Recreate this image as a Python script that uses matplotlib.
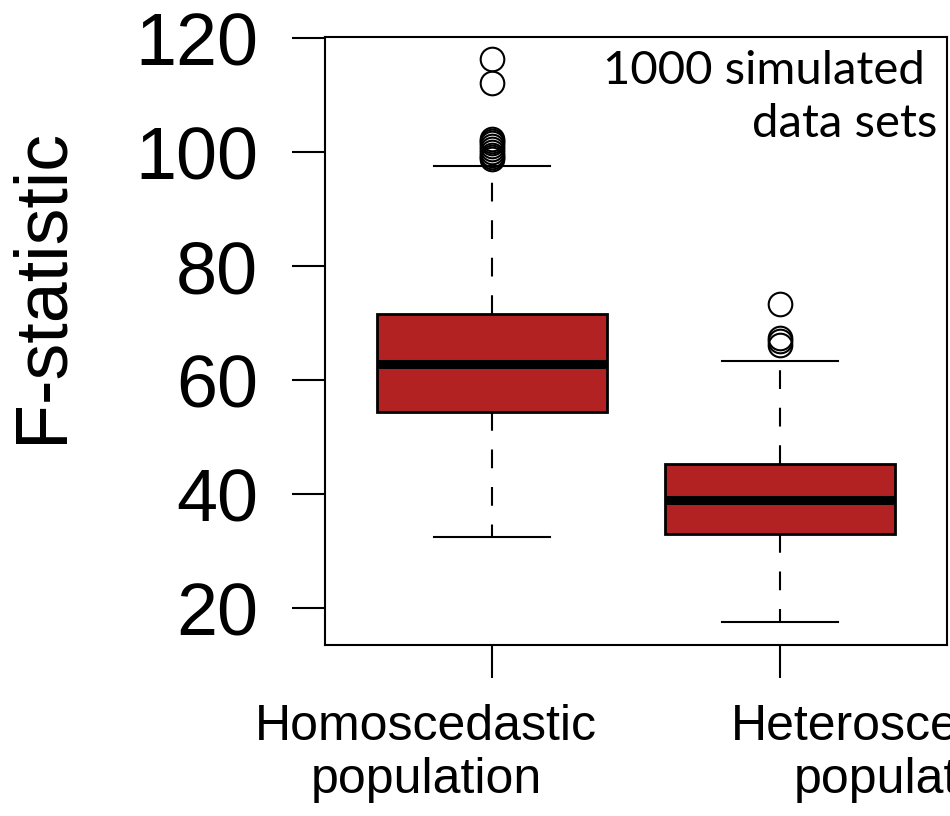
import matplotlib
matplotlib.use('Agg')
import matplotlib.pyplot as plt
from matplotlib import font_manager
from matplotlib.transforms import blended_transform_factory

# box statistics (1000 simulated F-statistics per group)
groups = ['Homoscedastic\npopulation', 'Heteroscedastic\npopulation']
q1 = [54.4, 33.0]
medians = [62.9, 39.0]
q3 = [71.7, 45.3]
whisker_low = [32.6, 17.7]
whisker_high = [97.6, 63.4]
fliers = [
    [116.3, 112.2, 102.3, 102.0, 101.6, 101.1, 100.6, 100.1, 99.6, 99.2, 98.8],
    [73.4, 67.5, 66.9, 66.2],
]
yticks = [20, 40, 60, 80, 100, 120]

installed = {f.name for f in font_manager.fontManager.ttflist}
narrow = 'Liberation Sans Narrow' if 'Liberation Sans Narrow' in installed else 'Liberation Sans'
label_size = 44 if narrow == 'Liberation Sans Narrow' else 36

plt.rcParams['font.family'] = ['Liberation Sans', 'DejaVu Sans']

fig = plt.figure(figsize=(9.5, 8.16), dpi=100)
ax = fig.add_axes([0.342, 0.2096, 0.655, 0.745])

stats = []
for i in range(len(groups)):
    stats.append(dict(med=medians[i], q1=q1[i], q3=q3[i],
                      whislo=whisker_low[i], whishi=whisker_high[i],
                      fliers=fliers[i], label=groups[i]))

ax.bxp(stats, positions=[1, 2], widths=0.8, capwidths=0.4, patch_artist=True,
       boxprops=dict(facecolor='#B22222', edgecolor='black', linewidth=2),
       medianprops=dict(color='black', linewidth=6.5, solid_capstyle='butt'),
       whiskerprops=dict(color='black', linestyle=(0, (9, 9)), linewidth=1.5),
       capprops=dict(color='black', linewidth=1.5),
       flierprops=dict(marker='o', markerfacecolor='none', markeredgecolor='black',
                       markersize=17, markeredgewidth=1.5))

ax.set_xlim(0.42, 2.58)
ax.set_ylim(13.6, 120.2)
ax.set_yticks(yticks)
ax.set_yticklabels([str(v) for v in yticks])
ax.set_xticks([1, 2])
ax.set_xticklabels(['', ''])

for s in ax.spines.values():
    s.set_linewidth(1.5)
ax.tick_params(axis='both', direction='out', length=24, width=1.5, labelsize=53, pad=24)

# category labels sit off-centre from the ticks in the original
tr = blended_transform_factory(ax.transData, fig.transFigure)
ax.text(0.771, 0.137, groups[0], transform=tr, ha='center', va='top',
        family=narrow, fontsize=label_size, linespacing=1.18, clip_on=False)
ax.text(2.45, 0.137, groups[1], transform=tr, ha='center', va='top',
        family=narrow, fontsize=label_size, linespacing=1.18, clip_on=False)

fig.text(0.008, 0.65, 'F-statistic', rotation=90, ha='left', va='center', fontsize=53)

ax.text(0.984, 0.978, '1000 simulated \ndata sets', transform=ax.transAxes,
        ha='right', va='top', family=['Lato', 'DejaVu Sans'], fontsize=34,
        linespacing=1.3)

fig.savefig('out.png', dpi=100)
